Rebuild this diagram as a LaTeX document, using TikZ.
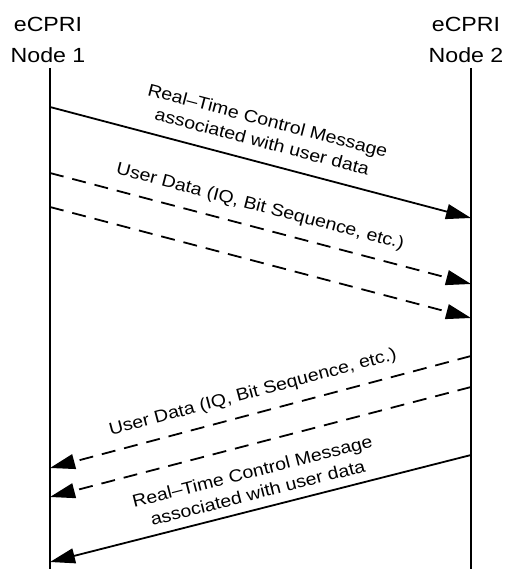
\documentclass[tikz,border=0pt]{standalone}
\usepackage{fontspec}
\setmainfont[FakeStretch=1.13]{Liberation Sans}
\usetikzlibrary{arrows.meta}
\begin{document}
\begin{tikzpicture}[x=1pt,y=-1pt,
  life/.style={line width=1.8pt},
  msg/.style={line width=1.8pt,-{Triangle[length=25pt,width=15pt]}},
  dmsg/.style={msg,dash pattern=on 14pt off 9pt},
  hdr/.style={align=center,font=\fontsize{20.5}{31}\selectfont,inner sep=0pt},
  lbl/.style={align=center,font=\fontsize{17.3}{22}\selectfont,inner sep=0pt}]
\useasboundingbox (0,0) rectangle (509,569);
% headers
\node[hdr] (n1) at (48,40) {eCPRI\\Node 1};
\node[hdr] (n2) at (466,40) {eCPRI\\Node 2};
% lifelines
\coordinate (l1t) at (50,68);
\coordinate (l1b) at (50,569);
\coordinate (l2t) at (471,68);
\coordinate (l2b) at (471,569);
\draw[life] (l1t) -- (l1b);
\draw[life] (l2t) -- (l2b);
% message endpoints
\coordinate (a1s) at (50,107);  \coordinate (a1e) at (471,218);
\coordinate (a2s) at (50,173);  \coordinate (a2e) at (471,284);
\coordinate (a3s) at (50,207);  \coordinate (a3e) at (471,318);
\coordinate (a4s) at (471,356); \coordinate (a4e) at (50,468);
\coordinate (a5s) at (471,387); \coordinate (a5e) at (50,497);
\coordinate (a6s) at (471,455); \coordinate (a6e) at (50,562);
\draw[msg] (a1s) -- (a1e);
\draw[dmsg] (a2s) -- (a2e);
\draw[dmsg] (a3s) -- (a3e);
\draw[dmsg] (a4s) -- (a4e);
\draw[dmsg] (a5s) -- (a5e);
\draw[msg] (a6s) -- (a6e);
% labels
\node[lbl,rotate=-14.7] (t1) at (265,131) {Real–Time Control Message\\associated with user data};
\node[lbl,rotate=-14.7] (t2) at (260,207) {User Data (IQ, Bit Sequence, etc.)};
\node[lbl,rotate=14.9] (t3) at (253,393) {User Data (IQ, Bit Sequence, etc.)};
\node[lbl,rotate=14.3] (t4) at (255,482) {Real–Time Control Message\\associated with user data};
\end{tikzpicture}
\end{document}
